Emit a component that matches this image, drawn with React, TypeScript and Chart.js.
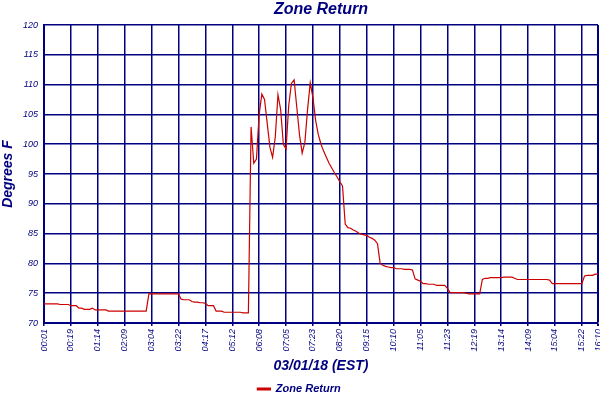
import React, { useEffect, useRef } from "react";
import { Chart, registerables } from "chart.js";

Chart.register(...registerables);

// tick labels as printed under the x axis
const tickLabels = [
  "00:01", "00:19", "01:14", "02:09", "03:04", "03:22", "04:17", "05:12",
  "06:08", "07:05", "07:23", "08:20", "09:15", "10:10", "11:05", "11:23",
  "12:19", "13:14", "14:09", "15:04", "15:22", "16:10",
];
// sample index where each tick label sits
const tickSamples = [
  0, 10, 20, 30, 40, 50, 60, 70, 80, 90, 100, 110, 120, 130, 140, 150, 160,
  170, 180, 190, 200, 206,
];

// Zone Return, degrees F, one value per logged sample
const zoneReturn = [
  73.2, 73.2, 73.2, 73.2, 73.2, 73.2, 73.1, 73.1, 73.1, 73.1,
  72.9, 72.9, 72.9, 72.5, 72.5, 72.3, 72.3, 72.3, 72.5, 72.2,
  72.2, 72.2, 72.2, 72.2, 72.0, 72.0, 72.0, 72.0, 72.0, 72.0,
  72.0, 72.0, 72.0, 72.0, 72.0, 72.0, 72.0, 72.0, 72.0, 74.9,
  74.9, 74.9, 74.9, 74.9, 74.9, 74.9, 74.9, 74.9, 74.9, 74.9,
  74.9, 74.0, 73.9, 73.9, 73.9, 73.6, 73.5, 73.5, 73.4, 73.4,
  73.3, 72.9, 72.9, 72.9, 72.0, 72.0, 72.0, 71.8, 71.8, 71.8,
  71.8, 71.8, 71.8, 71.8, 71.7, 71.7, 71.7, 102.9, 96.8, 97.5,
  105.0, 108.4, 107.5, 103.5, 99.5, 97.8, 101.2, 108.3, 105.8, 100.0,
  99.2, 106.5, 110.2, 110.8, 106.2, 101.6, 98.5, 100.3, 105.8, 110.3,
  107.8, 104.0, 101.6, 100.0, 98.8, 97.8, 96.8, 96.0, 95.2, 94.5,
  93.7, 93.0, 86.6, 86.0, 85.9, 85.6, 85.4, 85.1, 84.9, 84.8,
  84.7, 84.4, 84.2, 83.9, 83.3, 80.0, 79.7, 79.5, 79.4, 79.3,
  79.3, 79.1, 79.1, 79.1, 79.0, 79.0, 79.0, 78.9, 77.4, 77.2,
  77.0, 76.6, 76.6, 76.5, 76.5, 76.5, 76.3, 76.3, 76.3, 76.3,
  75.8, 75.1, 75.1, 75.1, 75.1, 75.1, 75.1, 75.0, 74.9, 74.9,
  74.9, 74.9, 74.9, 77.3, 77.5, 77.5, 77.6, 77.6, 77.6, 77.6,
  77.6, 77.7, 77.7, 77.7, 77.7, 77.5, 77.3, 77.3, 77.3, 77.3,
  77.3, 77.3, 77.3, 77.3, 77.3, 77.3, 77.3, 77.3, 77.2, 76.6,
  76.6, 76.6, 76.6, 76.6, 76.6, 76.6, 76.6, 76.6, 76.6, 76.6,
  76.6, 77.9, 78.0, 78.0, 78.0, 78.2, 78.2,
];

const NAVY = "#000080";
const RED = "#cc0000";
const FONT = "'Liberation Sans', Arial, sans-serif";

export default function App() {
  const canvasRef = useRef<HTMLCanvasElement>(null);

  useEffect(() => {
    if (!canvasRef.current) return;

    const chart = new Chart(canvasRef.current, {
      type: "line",
      data: {
        datasets: [
          {
            label: "Zone Return",
            data: zoneReturn.map((y, x) => ({ x, y })),
            borderColor: RED,
            backgroundColor: RED,
            borderWidth: 1.2,
            pointRadius: 0,
            tension: 0,
            fill: false,
          },
        ],
      },
      options: {
        animation: false,
        responsive: true,
        maintainAspectRatio: false,
        layout: { padding: { left: 0, right: 2, top: 0, bottom: 0 } },
        plugins: {
          title: {
            display: true,
            text: "Zone Return",
            fullSize: false, // centre over the plot, not the canvas
            color: NAVY,
            font: { family: FONT, size: 16, weight: "bold", style: "italic", lineHeight: 1 },
            padding: { top: 2, bottom: 7 },
          },
          legend: {
            position: "bottom",
            maxHeight: 20,
            labels: {
              color: NAVY,
              boxWidth: 13,
              boxHeight: 2,
              padding: 3.5,
              font: { family: FONT, size: 11, weight: "bold", style: "italic" },
            },
          },
          tooltip: { enabled: false },
        },
        scales: {
          x: {
            type: "linear",
            min: 0,
            max: zoneReturn.length - 1,
            afterBuildTicks: (scale: any) => {
              scale.ticks = tickSamples.map((v) => ({ value: v }));
            },
            afterFit: (scale: any) => {
              // keep the plot bottom at the reference's 70 line
              const legendH = scale.chart.legend ? scale.chart.legend.height : 0;
              scale.height = 400 - 323 - legendH;
              scale.paddingLeft = 0;
              scale.paddingRight = 0;
            },
            ticks: {
              autoSkip: false,
              minRotation: 90,
              maxRotation: 90,
              padding: 3,
              color: NAVY,
              font: { family: FONT, size: 9, style: "italic" },
              callback: (_v: any, i: number) => tickLabels[i],
            },
            grid: {
              color: NAVY,
              lineWidth: (ctx: any) => (ctx.index === tickSamples.length - 1 ? 2 : 1.5),
              tickLength: 3,
            },
            border: { color: NAVY, width: 2 },
            title: {
              display: true,
              text: "03/01/18 (EST)",
              color: NAVY,
              font: { family: FONT, size: 14, weight: "bold", style: "italic" },
              padding: { top: 0, bottom: 5.6 },
            },
          },
          y: {
            min: 70,
            max: 120,
            afterFit: (scale: any) => {
              scale.width = 44;
            },
            ticks: {
              stepSize: 5,
              padding: 6,
              color: NAVY,
              font: { family: FONT, size: 9, style: "italic" },
            },
            grid: { color: NAVY, lineWidth: 1.5, drawTicks: false },
            border: { color: NAVY, width: 2 },
            title: {
              display: true,
              text: "Degrees F",
              color: NAVY,
              font: { family: FONT, size: 14, weight: "bold", style: "italic" },
              padding: 0,
            },
          },
        },
      },
    });

    return () => chart.destroy();
  }, []);

  return (
    <div style={{ position: "absolute", left: 0, top: 0, width: 600, height: 400, background: "#fff" }}>
      <canvas ref={canvasRef} />
    </div>
  );
}
